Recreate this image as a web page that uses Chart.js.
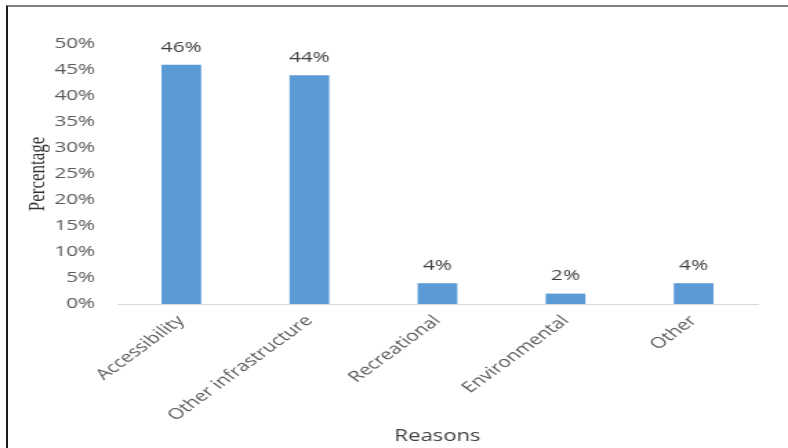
<!DOCTYPE html>
<html>
<head>
<meta charset="utf-8">
<script src="https://cdn.jsdelivr.net/npm/chart.js@4"></script>
<style>
  html, body { margin: 0; padding: 0; background: #fff; }
  body { width: 788px; height: 448px; position: relative; overflow: hidden; }
  /* the source picture is stretched sideways, so the chart is drawn narrower and widened */
  #wrap { position: absolute; left: 0; top: 0; width: 571px; height: 448px; transform-origin: 0 0; transform: scaleX(1.38); }
  #frame { position: absolute; left: 6px; top: 5px; width: 782px; height: 443px;
           border-left: 2px solid #1a1a1a; border-top: 2px solid #7f7f7f; box-sizing: border-box; pointer-events: none; }
</style>
</head>
<body>
<div id="wrap"><canvas id="chart" width="571" height="448"></canvas></div>
<div id="frame"></div>
<script>
// Chart data
const categories = ['Accessibility', 'Other infrastructure', 'Recreational', 'Environmental', 'Other'];
const percentages = [46, 44, 4, 2, 4];
const yTicks = [0, 5, 10, 15, 20, 25, 30, 35, 40, 45, 50];

const FONT = '"Open Sans", sans-serif';

// Percent labels above the bars
const valueLabels = {
  id: 'valueLabels',
  afterDatasetsDraw(chart) {
    const ctx = chart.ctx;
    const meta = chart.getDatasetMeta(0);
    ctx.save();
    ctx.font = '15px ' + FONT;
    ctx.fillStyle = '#404040';
    ctx.textAlign = 'center';
    ctx.textBaseline = 'bottom';
    meta.data.forEach((bar, i) => {
      ctx.fillText(percentages[i] + '%', bar.x, bar.y - 10);
    });
    ctx.restore();
  },
};

const ctx = document.getElementById('chart').getContext('2d');
new Chart(ctx, {
  type: 'bar',
  data: {
    labels: categories,
    datasets: [{
      data: percentages,
      backgroundColor: '#5b9bd5',
      borderWidth: 0,
      categoryPercentage: 1,
      barPercentage: 0.31,
    }],
  },
  options: {
    responsive: false,
    animation: false,
    devicePixelRatio: 1,
    layout: { padding: { left: 0, right: 22, top: 44, bottom: 0 } },
    plugins: {
      legend: { display: false },
      tooltip: { enabled: false },
    },
    scales: {
      x: {
        grid: { display: false, drawTicks: false },
        border: { display: true, color: '#d9d9d9', width: 1 },
        ticks: {
          color: '#595959',
          font: { family: FONT, size: 15 },
          minRotation: 45,
          maxRotation: 45,
          padding: 8,
        },
        title: {
          display: true,
          text: 'Reasons',
          color: '#404040',
          font: { family: FONT, size: 16 },
          padding: { top: 0, bottom: 2 },
        },
        afterFit(scale) { scale.height = 144; },
      },
      y: {
        min: 0,
        max: 50,
        afterBuildTicks(scale) { scale.ticks = yTicks.map(v => ({ value: v })); },
        grid: { display: false, drawTicks: false },
        border: { display: false },
        ticks: {
          color: '#595959',
          font: { family: FONT, size: 15 },
          padding: 16,
          callback: v => v + '%',
        },
        title: {
          display: true,
          text: 'Percentage',
          color: '#333333',
          font: { family: '"Liberation Serif", serif', size: 17 },
          padding: { top: 17, bottom: 0 },
        },
        afterFit(scale) { scale.width = 85; },
      },
    },
  },
  plugins: [valueLabels],
});
</script>
</body>
</html>
